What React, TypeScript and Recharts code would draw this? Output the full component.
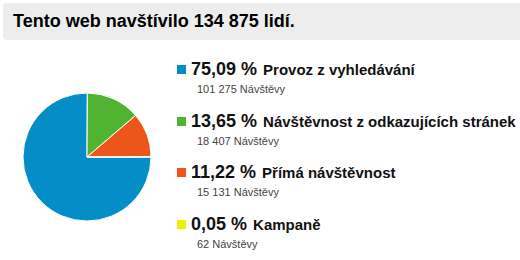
import React from "react";
import { PieChart, Pie, Cell, Legend } from "recharts";

const title = "Tento web navštívilo 134 875 lidí.";
const sources = ["Provoz z vyhledávání", "Návštěvnost z odkazujících stránek", "Přímá návštěvnost", "Kampaně"];
const visits = [101275, 18407, 15131, 62];
const percents = ["75,09", "13,65", "11,22", "0,05"];
const colors = ["#058dc7", "#50b432", "#ed561b", "#edef00"];

const data = sources.map((name, i) => ({ name, value: visits[i], pct: percents[i], color: colors[i] }));

const fmt = (n: number) => String(n).replace(/\B(?=(\d{3})+(?!\d))/g, " ");

const FONT = "Arial, 'Liberation Sans', sans-serif";

const LegendList = () => (
  <div style={{ fontFamily: FONT }}>
    {data.map((d) => (
      <div key={d.name} style={{ position: "relative", height: 51.5 }}>
        <div style={{ position: "absolute", left: 0, top: 6, width: 9, height: 9, background: d.color }} />
        <div style={{ position: "absolute", left: 14, top: 0, whiteSpace: "nowrap", color: "#111", lineHeight: "20px" }}>
          <span style={{ fontSize: 18, fontWeight: "bold" }}>{d.pct} %</span>
          <span style={{ fontSize: 15, fontWeight: "bold", marginLeft: 6 }}>{d.name}</span>
        </div>
        <div style={{ position: "absolute", left: 20, top: 24, fontSize: 11, lineHeight: "13px", color: "#444", whiteSpace: "nowrap" }}>
          {fmt(d.value)} Návštěvy
        </div>
      </div>
    ))}
  </div>
);

export default function App() {
  return (
    <div style={{ position: "absolute", left: 0, top: 0, width: 520, height: 260, background: "#fff", overflow: "hidden" }}>
      <div
        style={{
          position: "absolute",
          left: 3,
          top: 3,
          width: 530,
          height: 37,
          background: "#ededed",
          borderRadius: 4,
          fontFamily: FONT,
          fontWeight: "bold",
          fontSize: 18,
          color: "#000",
          boxSizing: "border-box",
          paddingLeft: 10,
          lineHeight: "37px",
          whiteSpace: "nowrap",
        }}
      >
        {title}
      </div>
      <div style={{ position: "absolute", left: 0, top: 0 }}>
        <PieChart width={520} height={260}>
          <Pie
            data={data}
            dataKey="value"
            nameKey="name"
            cx={82}
            cy={152}
            outerRadius={64}
            startAngle={0}
            endAngle={-360}
            stroke="#fff"
            strokeWidth={1}
            isAnimationActive={false}
          >
            {data.map((d) => (
              <Cell key={d.name} fill={d.color} />
            ))}
          </Pie>
          <Legend
            layout="vertical"
            content={<LegendList />}
            wrapperStyle={{ position: "absolute", left: 177, top: 59, width: 340 }}
          />
        </PieChart>
      </div>
    </div>
  );
}
